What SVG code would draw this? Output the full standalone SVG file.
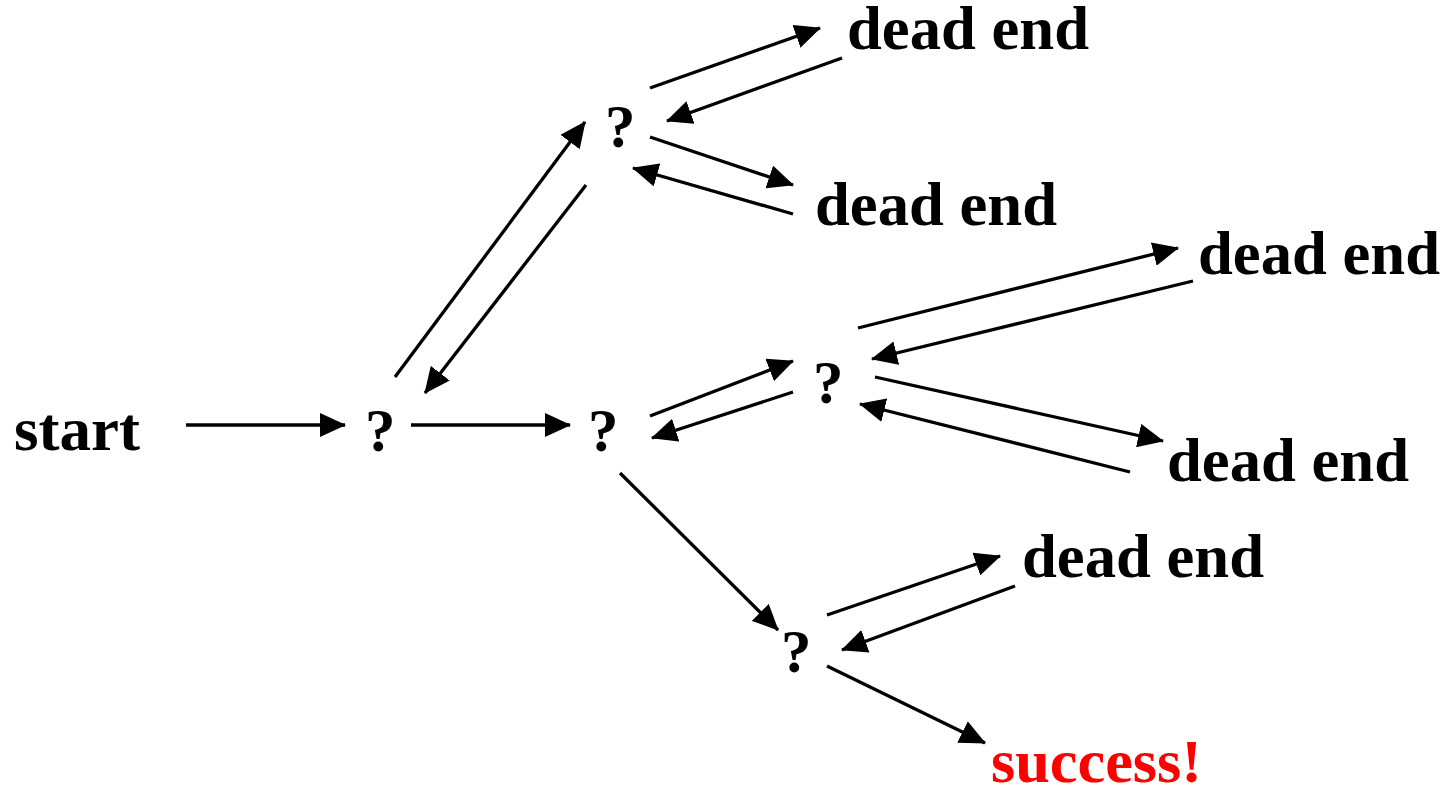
<svg xmlns="http://www.w3.org/2000/svg" width="1447" height="792" viewBox="0 0 1447 792">
<style>
.t{font-family:"Liberation Serif","Times New Roman",serif;font-weight:bold;font-size:61px;fill:#000}
.s{fill:#ff0000}
.c line{stroke:#000;stroke-width:3.3;marker-end:url(#ah)}
</style>
<defs>
<marker id="ah" markerUnits="userSpaceOnUse" markerWidth="26" markerHeight="24" refX="25" refY="12" orient="auto" viewBox="0 0 26 24">
<path d="M0,0 L26,12 L0,24 z" fill="#000"/>
</marker>
</defs>
<rect width="1447" height="792" fill="#fff"/>
<g id="start"><text class="t" x="14" y="450" textLength="126" lengthAdjust="spacingAndGlyphs">start</text></g>
<g id="q1"><text class="t" x="365" y="451">?</text></g>
<g id="q2"><text class="t" x="588" y="451">?</text></g>
<g id="qtop"><text class="t" x="605" y="147">?</text></g>
<g id="qmid"><text class="t" x="813" y="403">?</text></g>
<g id="qbot"><text class="t" x="781" y="672">?</text></g>
<g id="de1"><text class="t" x="847" y="49" textLength="242" lengthAdjust="spacingAndGlyphs">dead end</text></g>
<g id="de2"><text class="t" x="815" y="225" textLength="242" lengthAdjust="spacingAndGlyphs">dead end</text></g>
<g id="de3"><text class="t" x="1198" y="274" textLength="242" lengthAdjust="spacingAndGlyphs">dead end</text></g>
<g id="de4"><text class="t" x="1167" y="481" textLength="242" lengthAdjust="spacingAndGlyphs">dead end</text></g>
<g id="de5"><text class="t" x="1022" y="577" textLength="242" lengthAdjust="spacingAndGlyphs">dead end</text></g>
<g id="success"><text class="t s" x="991" y="782" textLength="211" lengthAdjust="spacingAndGlyphs">success!</text></g>
<g id="connectors" class="c">
<line x1="186" y1="425" x2="345" y2="425"/>
<line x1="411" y1="425" x2="570" y2="425"/>
<line x1="395" y1="377" x2="585" y2="122"/>
<line x1="586" y1="185" x2="425" y2="393"/>
<line x1="650" y1="88" x2="820" y2="28"/>
<line x1="842" y1="58" x2="667" y2="121"/>
<line x1="650" y1="137" x2="793" y2="185"/>
<line x1="793" y1="214" x2="633" y2="168"/>
<line x1="650" y1="416" x2="793" y2="361"/>
<line x1="793" y1="392" x2="652" y2="438"/>
<line x1="858" y1="328" x2="1178" y2="248"/>
<line x1="1193" y1="281" x2="872" y2="359"/>
<line x1="875" y1="377" x2="1163" y2="441"/>
<line x1="1130" y1="472" x2="860" y2="404"/>
<line x1="620" y1="473" x2="778" y2="630"/>
<line x1="827" y1="615" x2="1000" y2="556"/>
<line x1="1015" y1="586" x2="842" y2="650"/>
<line x1="827" y1="666" x2="985" y2="743"/>
</g>
</svg>
